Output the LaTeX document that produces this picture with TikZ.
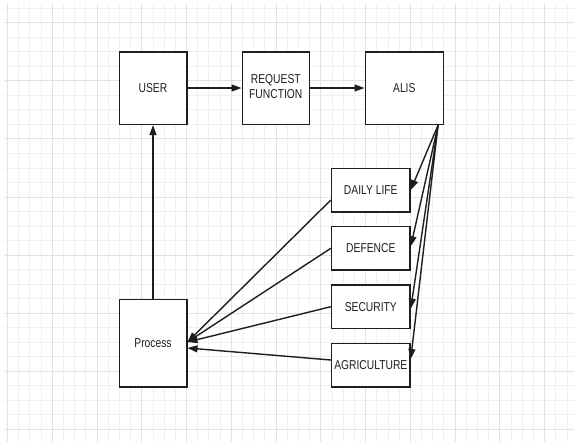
\documentclass[tikz,border=0pt]{standalone}
\usepackage{fontspec}
\setmainfont{Liberation Sans}
\usepackage{graphicx}
\usetikzlibrary{arrows.meta}

\definecolor{gridminor}{HTML}{F0F0F0}
\definecolor{gridmajor}{HTML}{E2E2E2}
\definecolor{ink}{HTML}{1E1E1E}

% text is drawn slightly taller than wide
\newcommand{\tall}[1]{\scalebox{1}[1.25]{#1}}

\tikzset{
  box/.style={draw=ink, line width=1.6pt, fill=white, inner sep=0pt,
    font=\fontsize{10.3}{12}\selectfont, text=ink},
  link/.style={draw=ink, line width=1.4pt, -{Triangle[length=10pt,width=7pt]}},
  minorline/.style={gridminor, line width=0.9pt},
  majorline/.style={gridmajor, line width=1pt},
}

\begin{document}
\begin{tikzpicture}[x=1pt,y=-1pt]
\useasboundingbox (0,0) rectangle (574,442);
\fill[white] (0,0) rectangle (574,442);

% background grid
\foreach \i in {0,...,50} \draw[minorline] ({7.5+11.19*\i},4) -- ({7.5+11.19*\i},442);
\foreach \j in {0,...,29} \draw[minorline] (4,{8.2+14.525*\j}) -- (574,{8.2+14.525*\j});
\foreach \i in {0,...,12} \draw[majorline] ({7.5+44.76*\i},4) -- ({7.5+44.76*\i},442);
\foreach \j in {0,...,7} \draw[majorline] (4,{22.7+58.1*\j}) -- (574,{22.7+58.1*\j});

% top row
\node[box, minimum width=67.4pt, minimum height=72.6pt] (user) at (153,88) {\tall{USER}};
\node[box, minimum width=67pt, minimum height=72.6pt] (req) at (275.8,88)
  {\tall{\begin{tabular}{@{}c@{}}REQUEST\\[-0.5pt]FUNCTION\end{tabular}}};
\node[box, minimum width=78pt, minimum height=72.6pt] (alis) at (404.3,88) {\tall{ALIS}};

% domain boxes
\node[box, minimum width=78.3pt, minimum height=43.4pt] (daily) at (370.8,190) {\tall{DAILY LIFE}};
\node[box, minimum width=78.3pt, minimum height=43.4pt] (defence) at (370.8,248.3) {\tall{DEFENCE}};
\node[box, minimum width=78.3pt, minimum height=43.4pt] (security) at (370.8,306.7) {\tall{SECURITY}};
\node[box, minimum width=78.3pt, minimum height=43.4pt] (agri) at (370.8,365) {\tall{AGRICULTURE}};

% process box
\node[box, minimum width=67.4pt, minimum height=87.4pt] (process) at (153,343) {\tall{Process}};

% request flow
\draw[link] (user) -- (req);
\draw[link] (req) -- (alis);
\draw[link] (process) -- (user);

% fan-out from ALIS
\coordinate (aout) at ([xshift=-6pt]alis.south east);
\draw[link] (aout) -- (daily.east);
\draw[link] (aout) -- ([yshift=2pt]defence.east);
\draw[link] (aout) -- ([yshift=-2pt]security.east);
\draw[link] (aout) -- ([yshift=6pt]agri.east);

% fan-in to Process
\draw[link] ([yshift=-10pt]daily.west) -- ([yshift=1pt]process.east);
\draw[link] (defence.west) -- ([yshift=1pt]process.east);
\draw[link] (security.west) -- ([yshift=1pt]process.east);
\draw[link] ([yshift=5pt]agri.west) -- ([yshift=-5pt]process.east);
\end{tikzpicture}
\end{document}
